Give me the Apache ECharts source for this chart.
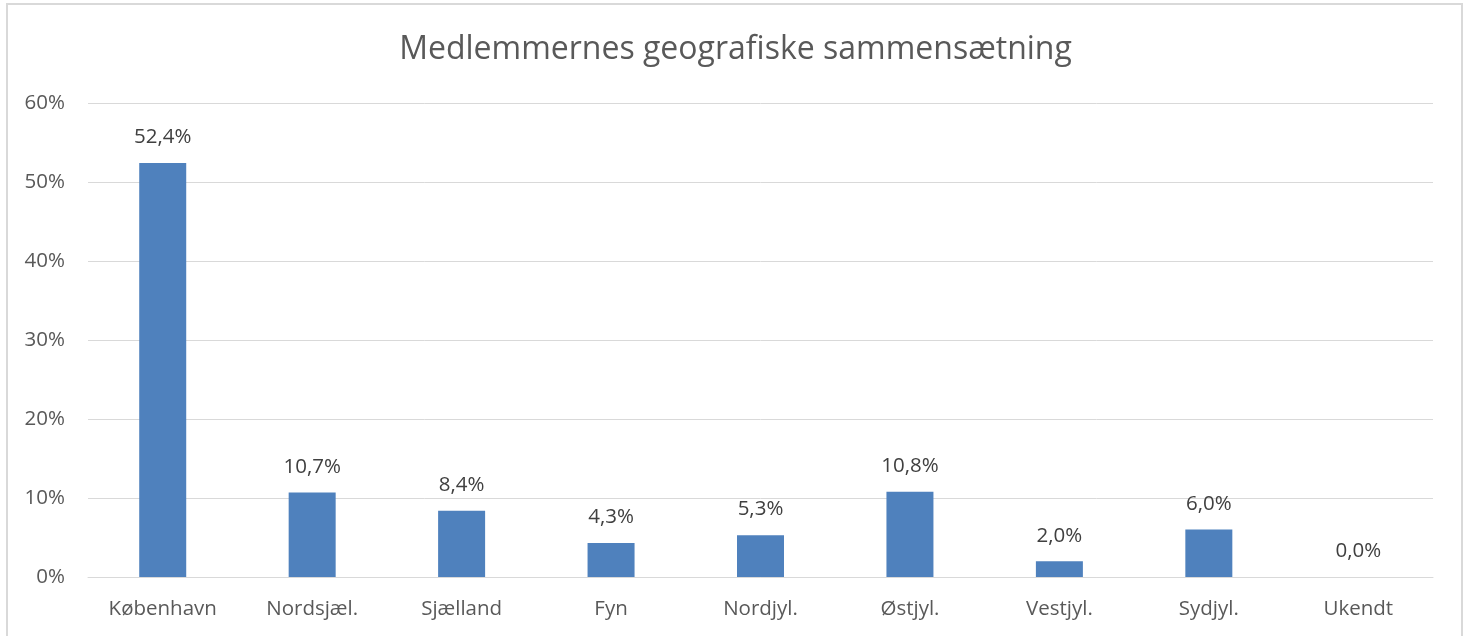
<!DOCTYPE html>
<html lang="da">
<head>
    <meta charset="UTF-8">
    <title>Medlemmernes geografiske sammensætning</title>
    <script src="https://cdn.jsdelivr.net/npm/echarts@6/dist/echarts.min.js"></script>
    <style>
        body { margin: 0; background: #fff; }
    </style>
</head>
<body>
<div id="main" style="width: 1471px;height:636px;"></div>
<script>
    var categories = ['København', 'Nordsjæl.', 'Sjælland', 'Fyn', 'Nordjyl.', 'Østjyl.', 'Vestjyl.', 'Sydjyl.', 'Ukendt'];
    var shares = [52.4, 10.7, 8.4, 4.3, 5.3, 10.8, 2.0, 6.0, 0.0];

    var textColor = '#595959';
    var fontFamily = '"Open Sans", sans-serif';

    var myChart = echarts.init(document.getElementById('main'));

    myChart.setOption({
        animation: false,
        textStyle: {fontFamily: fontFamily},
        title: {
            text: 'Medlemmernes geografiske sammensætning',
            left: 'center',
            top: 29,
            textStyle: {
                fontFamily: fontFamily,
                fontSize: 32,
                fontWeight: 'normal',
                color: textColor
            }
        },
        graphic: [{
            type: 'rect',
            shape: {x: 7, y: 4, width: 1455, height: 650},
            style: {fill: 'none', stroke: '#d9d9d9', lineWidth: 2},
            silent: true
        }],
        grid: {
            left: 88,
            right: 38,
            top: 103,
            bottom: 59
        },
        xAxis: {
            type: 'category',
            data: categories,
            axisLine: {show: true, lineStyle: {color: '#d9d9d9', width: 1}},
            axisTick: {show: false},
            axisLabel: {
                color: textColor,
                fontSize: 20.5,
                margin: 22
            }
        },
        yAxis: {
            type: 'value',
            min: 0,
            max: 60,
            interval: 10,
            axisLine: {show: false},
            axisTick: {show: false},
            splitLine: {lineStyle: {color: '#d9d9d9', width: 1}},
            axisLabel: {
                color: textColor,
                fontSize: 20.5,
                margin: 23,
                formatter: '{value}%'
            }
        },
        series: [{
            type: 'bar',
            data: shares,
            barWidth: 47,
            itemStyle: {color: '#4f81bd'},
            label: {
                show: true,
                position: 'top',
                distance: 15,
                color: '#404040',
                fontSize: 20.5,
                formatter: function (p) {
                    return p.value.toFixed(1).replace('.', ',') + '%';
                }
            }
        }]
    });
</script>
</body>
</html>
